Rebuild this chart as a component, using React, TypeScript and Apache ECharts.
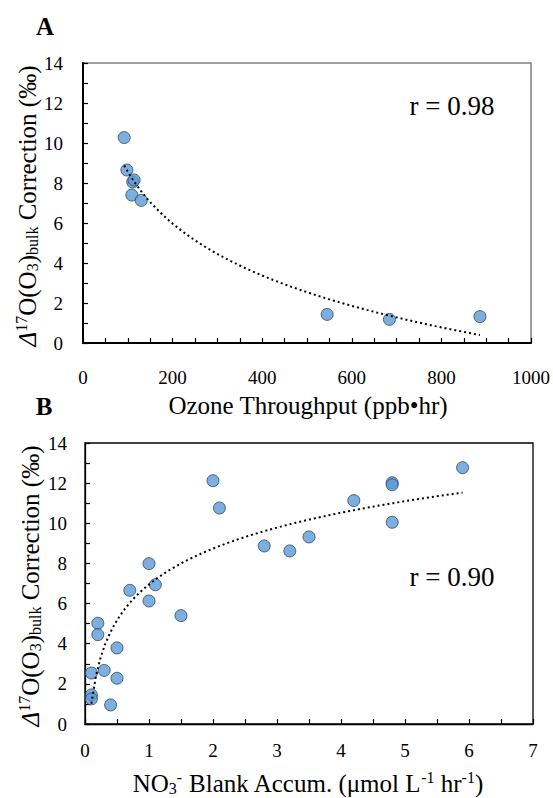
import React, { useEffect, useRef } from "react";
import * as echarts from "echarts";

// Panel A: ozone throughput vs correction
const ozoneThroughput = [92, 98, 111, 114, 109, 130, 545, 684, 886];
const ozoneCorrection = [10.27, 8.65, 8.05, 8.15, 7.4, 7.13, 1.43, 1.18, 1.32];

// Panel B: nitrate blank accumulation vs correction
const nitrateBlank = [2.0, 2.1, 1.0, 1.1, 1.0, 0.7, 1.5, 0.2, 0.2, 0.5, 0.1, 0.3, 0.5, 0.4, 0.1, 0.1, 2.8, 3.2, 3.5, 4.2, 4.8, 4.8, 4.8, 5.9];
const nitrateCorrection = [12.12, 10.76, 7.99, 6.94, 6.13, 6.66, 5.4, 5.02, 4.45, 3.79, 2.54, 2.67, 2.28, 0.95, 1.45, 1.25, 8.87, 8.62, 9.32, 11.13, 12.02, 11.92, 10.05, 12.77];

const rA = "r = 0.98";
const rB = "r = 0.90";

const FONT = "\"Liberation Serif\", Tinos, \"Times New Roman\", Times, serif";

function logTrend(xs: number[], ys: number[], steps = 80): number[][] {
  const n = xs.length;
  const lx = xs.map((x) => Math.log(x));
  const mx = lx.reduce((s, v) => s + v, 0) / n;
  const my = ys.reduce((s, v) => s + v, 0) / n;
  let sxy = 0, sxx = 0;
  for (let i = 0; i < n; i++) {
    sxy += (lx[i] - mx) * (ys[i] - my);
    sxx += (lx[i] - mx) * (lx[i] - mx);
  }
  const b = sxy / sxx;
  const a = my - b * mx;
  const lo = Math.min(...xs), hi = Math.max(...xs);
  const out: number[][] = [];
  for (let k = 0; k <= steps; k++) {
    const x = lo + ((hi - lo) * k) / steps;
    out.push([x, a + b * Math.log(x)]);
  }
  return out;
}

const TS = 25;
const richTitle = {
  n: { fontSize: TS, fontFamily: FONT, color: "#000" },
  i: { fontSize: TS, fontFamily: FONT, fontStyle: "italic", color: "#000" },
  sup: { fontSize: 16, fontFamily: FONT, color: "#000", padding: [0, 0, 12, 0] },
  sub: { fontSize: 16, fontFamily: FONT, color: "#000", padding: [10, 0, 0, 0] },
};

const yTitle = "{i|Δ}{sup|17}{n|O(O}{sub|3}{n|)}{sub|bulk}{n| Correction (‰)}";
const xTitleB = "{n|NO}{sub|3}{sup|-}{n| Blank Accum. (μmol L}{sup|-1}{n| hr}{sup|-1}{n|)}";

export default function App() {
  const ref = useRef<HTMLDivElement>(null);
  useEffect(() => {
    if (!ref.current) return;
    const chart = echarts.init(ref.current, null, { renderer: "svg" });

    const ptsA = ozoneThroughput.map((x, i) => [x, ozoneCorrection[i]]);
    const ptsB = nitrateBlank.map((x, i) => [x, nitrateCorrection[i]]);

    const tickLabel = (margin: number) => ({
      fontSize: 19,
      fontFamily: FONT,
      color: "#000",
      margin,
      formatter: (v: number) => String(v),
    });
    const axisCommon = (lw: number, split: number) => ({
      axisLine: { show: true, lineStyle: { color: "#000", width: lw } },
      axisTick: { show: true, inside: true, length: 5, lineStyle: { color: "#000", width: 1.2 } },
      minorTick: { show: true, splitNumber: split, length: 5, lineStyle: { color: "#000", width: 1.2 } },
      splitLine: { show: false },
    });

    const symbolStyle = { color: "#5B9BD5", borderColor: "#2B4766", borderWidth: 1 };
    const textBase = { fontFamily: FONT, fill: "#000", align: "center", verticalAlign: "middle" };

    chart.setOption({
      animation: false,
      backgroundColor: "#fff",
      textStyle: { fontFamily: FONT },
      grid: [
        { left: 83, top: 63, width: 450, height: 280, show: true, borderColor: "#808080", borderWidth: 1.5, backgroundColor: "transparent" },
        { left: 85, top: 443, width: 448, height: 281, show: true, borderColor: "#000", borderWidth: 1.3, backgroundColor: "transparent" },
      ],
      xAxis: [
        { type: "value", gridIndex: 0, min: 0, max: 1000, interval: 200, ...axisCommon(2, 4), axisLabel: tickLabel(25) },
        { type: "value", gridIndex: 1, min: 0, max: 7, interval: 1, ...axisCommon(1.3, 2), axisLabel: tickLabel(17) },
      ],
      yAxis: [
        { type: "value", gridIndex: 0, min: 0, max: 14, interval: 2, ...axisCommon(2, 2), axisLabel: tickLabel(20) },
        { type: "value", gridIndex: 1, min: 0, max: 14, interval: 2, ...axisCommon(1.3, 2), axisLabel: tickLabel(18) },
      ],
      series: [
        { type: "scatter", xAxisIndex: 0, yAxisIndex: 0, data: ptsA, symbol: "circle", symbolSize: 12, itemStyle: symbolStyle, z: 2 },
        { type: "line", xAxisIndex: 0, yAxisIndex: 0, data: logTrend(ozoneThroughput, ozoneCorrection), showSymbol: false, symbol: "none", silent: true, lineStyle: { color: "#000", width: 2, type: [2, 3] }, z: 3 },
        { type: "scatter", xAxisIndex: 1, yAxisIndex: 1, data: ptsB, symbol: "circle", symbolSize: 12, itemStyle: symbolStyle, z: 2 },
        { type: "line", xAxisIndex: 1, yAxisIndex: 1, data: logTrend(nitrateBlank, nitrateCorrection), showSymbol: false, symbol: "none", silent: true, lineStyle: { color: "#000", width: 2, type: [2, 3] }, z: 3 },
      ],
      graphic: [
        { type: "text", x: 45, y: 26, style: { ...textBase, text: "A", fontSize: 25, fontWeight: "bold" } },
        { type: "text", x: 44, y: 406, style: { ...textBase, text: "B", fontSize: 25, fontWeight: "bold" } },
        { type: "text", x: 27, y: 206, rotation: Math.PI / 2, style: { ...textBase, text: yTitle, rich: richTitle, fontSize: TS } },
        { type: "text", x: 30, y: 586, rotation: Math.PI / 2, style: { ...textBase, text: yTitle, rich: richTitle, fontSize: TS } },
        { type: "text", x: 308, y: 405, style: { ...textBase, text: "Ozone Throughput (ppb•hr)", fontSize: TS } },
        { type: "text", x: 308, y: 783, style: { ...textBase, text: xTitleB, rich: richTitle, fontSize: TS } },
        { type: "text", x: 452, y: 106, style: { ...textBase, text: rA, fontSize: 27 } },
        { type: "text", x: 452, y: 577, style: { ...textBase, text: rB, fontSize: 27 } },
      ],
    });
    return () => chart.dispose();
  }, []);
  return <div ref={ref} style={{ position: "absolute", left: 0, top: 0, width: 553, height: 798 }} />;
}
